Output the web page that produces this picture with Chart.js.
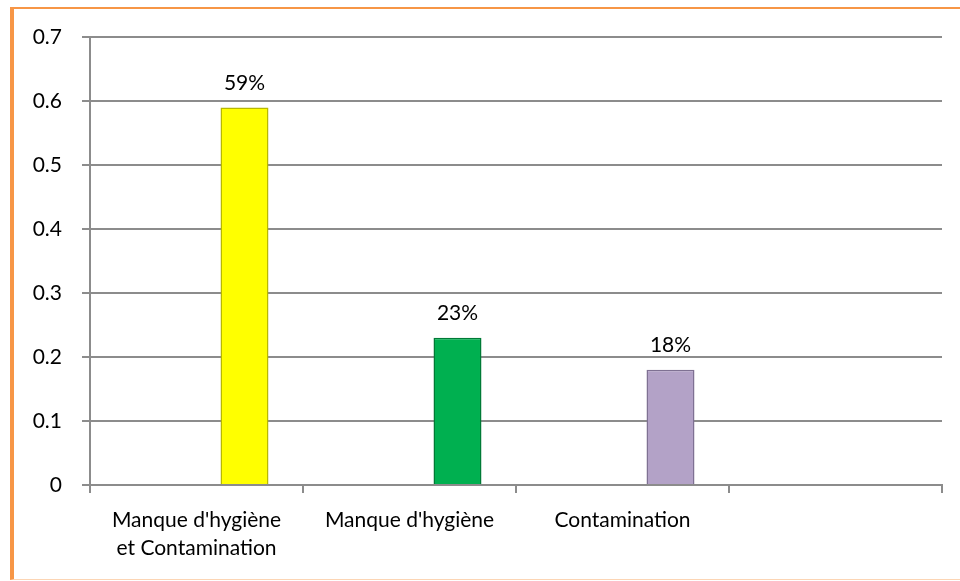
<!DOCTYPE html>
<html>
<head>
<meta charset="utf-8">
<script src="https://cdn.jsdelivr.net/npm/chart.js@4.4.1/dist/chart.umd.min.js"></script>
<style>
  html, body { margin: 0; padding: 0; background: #fff; }
  #frame {
    position: absolute; left: 10px; top: 7px; width: 950px; height: 573px;
    box-sizing: border-box;
    border-left: 4px solid #F79646; border-top: 2px solid #F79646; border-bottom: 1px solid #FCD5B4;
  }
  #wrap { position: absolute; left: 0; top: 0; width: 946px; height: 570px; }
</style>
</head>
<body>
<div id="frame"><div id="wrap"><canvas id="bar-chart"></canvas></div></div>
<script>
const categories = [["Manque d'hygiène", "et Contamination"], "Manque d'hygiène", "Contamination", ""];
const values = [0.59, 0.23, 0.18, null];
const valueLabels = ["59%", "23%", "18%", ""];
const barColors = ["#FFFF00", "#00B050", "#B3A2C7", "#FFFFFF"];
const barBorders = ["#B8B800", "#007A36", "#7F7193", "#FFFFFF"];
const yTicks = [0, 0.1, 0.2, 0.3, 0.4, 0.5, 0.6, 0.7];

const fontFamily = "Lato, 'Open Sans', sans-serif";

const labelPlugin = {
  id: "valueLabels",
  afterDatasetsDraw(chart) {
    const ctx = chart.ctx;
    const meta = chart.getDatasetMeta(2);
    ctx.save();
    ctx.font = "21px " + fontFamily;
    ctx.fillStyle = "#000";
    ctx.textAlign = "center";
    ctx.textBaseline = "bottom";
    meta.data.forEach(function (bar, i) {
      if (values[i] == null) return;
      ctx.fillText(valueLabels[i], bar.x, bar.y - 14);
    });
    ctx.restore();
  }
};

const ctx = document.getElementById("bar-chart").getContext("2d");
new Chart(ctx, {
  type: "bar",
  data: {
    labels: categories,
    datasets: [
      { data: [], backgroundColor: "transparent" },
      { data: [], backgroundColor: "transparent" },
      {
        data: values,
        backgroundColor: barColors,
        borderColor: barBorders,
        borderWidth: 1.5
      }
    ]
  },
  options: {
    responsive: true,
    maintainAspectRatio: false,
    animation: false,
    layout: { padding: { top: 28, right: 18, bottom: 0, left: 0 } },
    datasets: { bar: { categoryPercentage: 0.676, barPercentage: 1 } },
    plugins: { legend: { display: false }, tooltip: { enabled: false } },
    scales: {
      x: {
        offset: true,
        grid: { display: true, offset: true, drawOnChartArea: false, drawTicks: true, tickLength: 8, color: "#8c8c8c", lineWidth: 2 },
        border: { display: true, color: "#8c8c8c", width: 2 },
        ticks: { color: "#000", font: { family: fontFamily, size: 21, lineHeight: 1.3 }, padding: 14, maxRotation: 0, autoSkip: false },
        afterFit(scale) { scale.height = 94; scale.paddingLeft = 0; scale.paddingRight = 0; }
      },
      y: {
        min: 0,
        max: 0.7,
        afterBuildTicks(scale) { scale.ticks = yTicks.map(function (v) { return { value: v }; }); },
        grid: { color: "#8c8c8c", lineWidth: 2, drawTicks: true, tickLength: 8 },
        border: { display: true, color: "#8c8c8c", width: 2 },
        ticks: { color: "#000", font: { family: fontFamily, size: 21 }, padding: 20 },
        afterFit(scale) { scale.width = 76; scale.paddingTop = 0; scale.paddingBottom = 0; }
      }
    }
  },
  plugins: [labelPlugin]
});
</script>
</body>
</html>
